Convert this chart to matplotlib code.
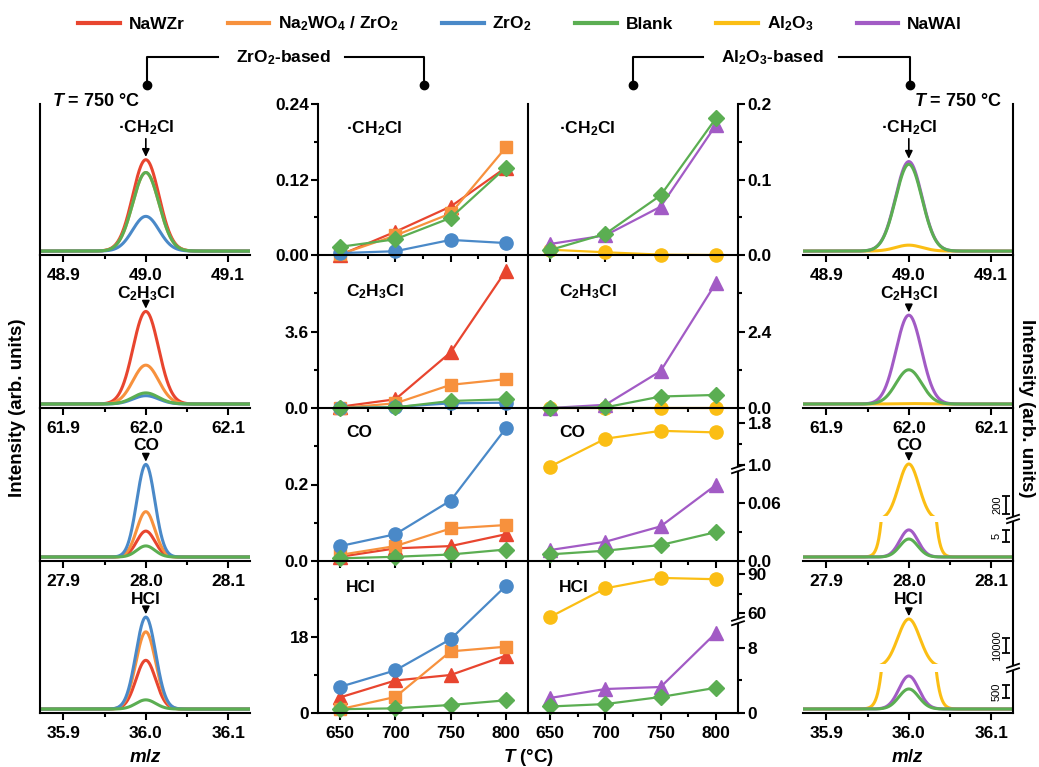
import numpy as np
import matplotlib
matplotlib.use('Agg')
import matplotlib.pyplot as plt
from matplotlib.lines import Line2D
from matplotlib.ticker import MultipleLocator, FormatStrFormatter

plt.rcParams['font.family'] = ['Liberation Sans', 'DejaVu Sans']
plt.rcParams['font.weight'] = 'bold'
plt.rcParams['mathtext.fontset'] = 'custom'
plt.rcParams['mathtext.rm'] = 'Liberation Sans:bold'
plt.rcParams['mathtext.bf'] = 'Liberation Sans:bold'
plt.rcParams['mathtext.it'] = 'Liberation Sans:italic:bold'
plt.rcParams['mathtext.default'] = 'rm'
plt.rcParams['axes.linewidth'] = 1.5
for a in ['xtick', 'ytick']:
    plt.rcParams[a + '.major.width'] = 1.5
    plt.rcParams[a + '.minor.width'] = 1.5
    plt.rcParams[a + '.major.size'] = 5
    plt.rcParams[a + '.minor.size'] = 3
    plt.rcParams[a + '.labelsize'] = 12.5
    plt.rcParams[a + '.direction'] = 'out'
plt.rcParams['xtick.major.pad'] = 4.5
plt.rcParams['ytick.major.pad'] = 3

# ---- data ----
temps = [650, 700, 750, 800]
species = ['·CH$_2$Cl', 'C$_2$H$_3$Cl', 'CO', 'HCl']
mz_center = [49.0, 62.0, 28.0, 36.0]
peak_sigma = [0.016, 0.0155, 0.011, 0.012]

# ZrO2-based, one row per species (CH2Cl, C2H3Cl, CO, HCl)
nawzr = [[0.000, 0.037, 0.077, 0.139], [0.06, 0.41, 2.62, 6.46],
         [0.011, 0.033, 0.039, 0.070], [3.7, 7.7, 9.0, 13.6]]
na2wo4 = [[0.001, 0.031, 0.066, 0.171], [0.0, 0.22, 1.09, 1.36],
          [0.016, 0.039, 0.085, 0.094], [0.9, 3.8, 14.6, 15.7]]
zro2 = [[0.003, 0.006, 0.024, 0.019], [0.0, 0.05, 0.22, 0.25],
        [0.039, 0.070, 0.158, 0.347], [6.2, 10.1, 17.5, 30.1]]
blank_zr = [[0.013, 0.025, 0.059, 0.139], [0.0, 0.03, 0.33, 0.41],
            [0.007, 0.011, 0.017, 0.030], [0.9, 1.1, 1.9, 3.0]]

# Al2O3-based
al2o3 = [[0.007, 0.0036, 0.0005, 0.0], [0.0, 0.0, 0.0, 0.0],
         [0.97, 1.50, 1.65, 1.62], [57, 79, 87, 86]]
nawal = [[0.0146, 0.026, 0.064, 0.172], [0.0, 0.1, 1.16, 3.92],
         [0.0114, 0.020, 0.036, 0.079], [1.85, 2.95, 3.2, 9.85]]
blank_al = [[0.0066, 0.028, 0.079, 0.181], [0.0, 0.02, 0.36, 0.41],
            [0.0069, 0.0107, 0.0166, 0.030], [0.8, 1.1, 1.97, 3.1]]

# MS peak heights at T = 750 C
peak_nawzr = [1.0, 1.0, 0.28, 0.53]
peak_na2wo4 = [0.86, 0.42, 0.49, 0.84]
peak_zro2 = [0.38, 0.09, 1.0, 1.0]
peak_blank_zr = [0.86, 0.12, 0.12, 0.10]
peak_nawal = [0.98, 0.96, 11.3, 1270]
peak_blank_al = [0.95, 0.37, 7.5, 770]
peak_al2o3 = [0.065, 0.005, 618, 32000]
scale_bars = {2: [('200', 60, 260), ('5', 6.25, 11.25)],
              3: [('10000', 9300, 19300), ('500', 423, 923)]}

red, orange, blue = '#E8452F', '#F7913D', '#4A89C8'
green, yellow, purple = '#5BAE52', '#FBBE14', '#A25BC5'

zr_series = [('NaWZr', red, '^', 9.5, nawzr, peak_nawzr),
             ('Na$_2$WO$_4$ / ZrO$_2$', orange, 's', 8.5, na2wo4, peak_na2wo4),
             ('ZrO$_2$', blue, 'o', 9.5, zro2, peak_zro2),
             ('Blank', green, 'D', 8, blank_zr, peak_blank_zr)]
al_series = [('Al$_2$O$_3$', yellow, 'o', 9.5, al2o3, peak_al2o3),
             ('NaWAl', purple, '^', 9.5, nawal, peak_nawal),
             ('Blank', green, 'D', 8, blank_al, peak_blank_al)]

# ---- layout (pixels) ----
W, H = 1039, 767
fig = plt.figure(figsize=(W / 100, H / 100), dpi=100)
row_top = [104, 255, 408, 561]
row_bot = [255, 408, 561, 713]
label_y = [128, 294, 445, 600]
mid_label_y = [129, 292, 433, 587]


def fx(x):
    return x / W


def fy(y):
    return 1 - y / H


def px_axes(x0, x1, y0, y1):
    return fig.add_axes([fx(x0), fy(y1), (x1 - x0) / W, (y1 - y0) / H])


def keep_spines(ax, sides):
    for s in ['left', 'right', 'top', 'bottom']:
        ax.spines[s].set_visible(s in sides)


def fig_line(xs, ys, **kw):
    kw.setdefault('lw', 1.5)
    fig.add_artist(Line2D([fx(x) for x in xs], [fy(y) for y in ys], color='k', **kw))


def break_mark(x, y):
    for dy in (-2.2, 2.2):
        fig_line([x - 6, x + 6], [y + dy + 2, y + dy - 2], lw=1.3)


def temp_axis(ax, labels, show=True):
    ax.set_xlim(630, 820)
    ax.set_xticks(temps)
    ax.set_xticks([675, 725, 775], minor=True)
    ax.tick_params(axis='x', which='both', bottom=show, labelbottom=labels and show)
    ax.set_facecolor('none')


def mz_axis(ax, i, show=True):
    c = mz_center[i]
    ax.set_xlim(c - 0.1285, c + 0.1265)
    ax.xaxis.set_major_locator(MultipleLocator(0.1))
    ax.xaxis.set_minor_locator(MultipleLocator(0.05))
    ax.xaxis.set_major_formatter(FormatStrFormatter('%.1f'))
    ax.set_yticks([])
    ax.tick_params(axis='x', which='both', bottom=show, labelbottom=show)
    ax.set_facecolor('none')


def draw_peaks(ax, i, series):
    c = mz_center[i]
    x = np.linspace(c - 0.1285, c + 0.1265, 600)
    for s in series:
        h = s[5][i]
        sig = peak_sigma[i] * (1.12 if s[1] == yellow and i >= 2 else 1.0)
        ax.plot(x, h * np.exp(-0.5 * ((x - c) / sig) ** 2), color=s[1], lw=2.2)


def peak_label(ax, i, top):
    ax.annotate(species[i], xy=(mz_center[i], top), xycoords='data',
                xytext=(mz_center[i], fy(label_y[i])), textcoords=('data', 'figure fraction'),
                ha='center', va='center', fontsize=12.5,
                arrowprops=dict(arrowstyle='-|>,head_length=0.45,head_width=0.22',
                                mutation_scale=10, lw=1.2, color='k', relpos=(0.5, 0),
                                patchA=None, shrinkA=1, shrinkB=2))


def draw_temp(ax, i, series):
    for s in series:
        ax.plot(temps, s[4][i], color=s[1], marker=s[2], ms=s[3], lw=1.6, clip_on=False)


# ---- left column: ZrO2-based MS peaks ----
for i in range(4):
    ax = px_axes(40, 250, row_top[i], row_bot[i])
    keep_spines(ax, ['left', 'bottom'])
    mz_axis(ax, i)
    ax.set_ylim(-0.043, 1.61)
    draw_peaks(ax, i, zr_series)
    peak_label(ax, i, max(s[5][i] for s in zr_series))

# ---- middle left: ZrO2-based vs T ----
zr_ylim = [(0, 0.24), (0, 7.2), (0, 0.4), (0, 36)]
zr_major = [([0, 0.12, 0.24], ['0.00', '0.12', '0.24']), ([0, 3.6], ['0.0', '3.6']),
            ([0, 0.2], ['0.0', '0.2']), ([0, 18], ['0', '18'])]
zr_minor = [[0.06, 0.18], [1.8, 5.4], [0.1, 0.3], [9, 27]]
for i in range(4):
    ax = px_axes(318, 528, row_top[i], row_bot[i])
    keep_spines(ax, ['left', 'right', 'bottom'])
    temp_axis(ax, i == 3)
    ax.set_ylim(*zr_ylim[i])
    ax.set_yticks(zr_major[i][0], zr_major[i][1])
    ax.set_yticks(zr_minor[i], minor=True)
    ax.tick_params(axis='y', which='major', pad=1.5)
    draw_temp(ax, i, zr_series)
    fig.text(fx(346), fy(mid_label_y[i]), species[i], ha='left', va='center', fontsize=12.5)

# ---- middle right: Al2O3-based vs T ----
al_single = {0: ((0, 0.2), [0, 0.1, 0.2], ['0.0', '0.1', '0.2'], [0.05, 0.15]),
             1: ((0, 4.8), [0, 2.4], ['0.0', '2.4'], [1.2, 3.6])}
al_split = {2: dict(lo_px=472, hi_px=466, lo=(0, 0.0925), hi=(0.98, 2.085),
                    lo_t=([0, 0.06], ['0.0', '0.06'], [0.03]), hi_t=([1.0, 1.8], ['1.0', '1.8'], [1.4])),
            3: dict(lo_px=624, hi_px=618, lo=(0, 10.95), hi=(56.2, 100),
                    lo_t=([0, 8], ['0', '8'], [4]), hi_t=([60, 90], ['60', '90'], [75]))}


def right_ticks(ax, major, labels, minor):
    ax.yaxis.tick_right()
    ax.set_yticks(major, labels)
    ax.set_yticks(minor, minor=True)
    ax.tick_params(axis='y', which='both', right=True, left=False, labelright=True, labelleft=False)
    ax.tick_params(axis='y', which='major', pad=2)


for i in range(4):
    if i in al_single:
        ylim, major, labels, minor = al_single[i]
        ax = px_axes(528, 738, row_top[i], row_bot[i])
        keep_spines(ax, ['right', 'bottom'])
        temp_axis(ax, False)
        ax.set_ylim(*ylim)
        right_ticks(ax, major, labels, minor)
        draw_temp(ax, i, al_series)
    else:
        p = al_split[i]
        lo = px_axes(528, 738, p['lo_px'], row_bot[i])
        keep_spines(lo, ['right', 'bottom'])
        temp_axis(lo, i == 3)
        lo.set_ylim(*p['lo'])
        right_ticks(lo, *p['lo_t'])
        hi = px_axes(528, 738, row_top[i], p['hi_px'])
        keep_spines(hi, ['right'])
        temp_axis(hi, False, show=False)
        hi.set_ylim(*p['hi'])
        right_ticks(hi, *p['hi_t'])
        draw_temp(hi, i, al_series[:1])
        draw_temp(lo, i, al_series[1:])
        break_mark(738, (p['lo_px'] + p['hi_px']) / 2)
    fig.text(fx(559), fy(mid_label_y[i]), species[i], ha='left', va='center', fontsize=12.5)

# ---- right column: Al2O3-based MS peaks ----
split_px = {2: (516, 522, (40, 1240), (-1.67, 14.6)),
            3: (664, 672, (2000, 70700), (-154, 1423))}
for i in range(4):
    if i not in split_px:
        ax = px_axes(803, 1013, row_top[i], row_bot[i])
        keep_spines(ax, ['right', 'bottom'])
        mz_axis(ax, i)
        ax.set_ylim(-0.043, 1.61)
        draw_peaks(ax, i, al_series)
        peak_label(ax, i, max(s[5][i] for s in al_series))
    else:
        hi_px, lo_px, hi_lim, lo_lim = split_px[i]
        lo = px_axes(803, 1013, lo_px, row_bot[i])
        keep_spines(lo, ['right', 'bottom'])
        mz_axis(lo, i)
        lo.set_ylim(*lo_lim)
        hi = px_axes(803, 1013, row_top[i], hi_px)
        keep_spines(hi, ['right'])
        mz_axis(hi, i, show=False)
        hi.set_ylim(*hi_lim)
        draw_peaks(lo, i, al_series)
        draw_peaks(hi, i, al_series[:1])
        peak_label(hi, i, peak_al2o3[i])
        break_mark(1013, (hi_px + lo_px) / 2)
        xb = mz_center[i] + 0.118
        for (txt, y0, y1), a in zip(scale_bars[i], [hi, lo]):
            a.errorbar([xb], [(y0 + y1) / 2], yerr=[(y1 - y0) / 2], fmt='none', ecolor='k',
                       elinewidth=1.3, capsize=3, capthick=1.3)
            a.text(xb - 0.011, (y0 + y1) / 2, txt, rotation=90, ha='center', va='center',
                   fontsize=8, fontweight='normal')

# ---- labels, legend and brackets ----
fig.text(fx(18), fy(408), 'Intensity (arb. units)', rotation=90, ha='center', va='center', fontsize=13.5)
fig.text(fx(1027), fy(408), 'Intensity (arb. units)', rotation=-90, ha='center', va='center', fontsize=13.5)
fig.text(fx(146), fy(757), '$\\mathit{m/z}$', ha='center', va='center', fontsize=13.5)
fig.text(fx(908), fy(757), '$\\mathit{m/z}$', ha='center', va='center', fontsize=13.5)
fig.text(fx(529), fy(757), '$\\mathit{T}$ (°C)', ha='center', va='center', fontsize=13.5)
fig.text(fx(52), fy(101), '$\\mathit{T}$ = 750 °C', ha='left', va='center', fontsize=13)
fig.text(fx(1002), fy(101), '$\\mathit{T}$ = 750 °C', ha='right', va='center', fontsize=13)

leg_series = zr_series + al_series[:2]
fig.legend([Line2D([], [], color=s[1], lw=3) for s in leg_series], [s[0] for s in leg_series],
           loc='center', bbox_to_anchor=(fx(520), fy(24)), ncol=6, frameon=False,
           fontsize=12.5, handlelength=2.4, handletextpad=0.5, columnspacing=2.5)

for text, xc, (a, b, c, d) in [('ZrO$_2$-based', 284, (147, 218, 345, 424)),
                              ('Al$_2$O$_3$-based', 772, (633, 703, 839, 910))]:
    fig.text(fx(xc), fy(58), text, ha='center', va='center', fontsize=12.5)
    fig_line([b, a, a], [57, 57, 85])
    fig_line([c, d, d], [57, 57, 85])
    fig_line([a, d], [85, 85], ls='none', marker='o', ms=6)

fig.savefig('out.png', dpi=100)
